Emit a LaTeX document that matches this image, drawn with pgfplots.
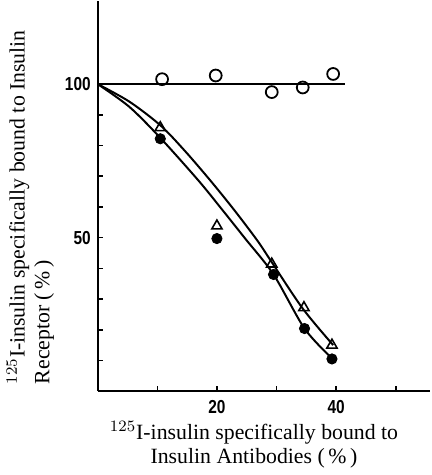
\documentclass[border=0pt]{standalone}
\usepackage{fontspec}
\setmainfont{Liberation Serif}
\newfontfamily\ticksf[FakeStretch=0.82]{Liberation Sans}
\usepackage{pgfplots}
\pgfplotsset{compat=1.18}
\begin{document}
\begin{tikzpicture}
\begin{axis}[
  scale only axis, width=168pt, height=197pt,
  xmin=0, xmax=55.8, ymin=0, ymax=127,
  axis x line=bottom, axis y line=left,
  axis line style={-, line width=1.2pt},
  xtick={10,20,30,40,50}, xticklabels={,20,,40,},
  ytick={10,20,...,100}, yticklabels={,,,,50,,,,,100},
  tick align=inside, major tick length=2.5pt,
  tick style={line width=0.8pt, black},
  /pgf/number format/assume math mode=true,
  tick label style={font=\ticksf\bfseries\fontsize{9.5}{9.5}\selectfont},
  xticklabel style={yshift=-1pt},
  label style={font=\fontsize{11}{12.5}\selectfont},
  xlabel={$^{125}$I-insulin specifically bound to\\Insulin Antibodies (\,\%\,)},
  xlabel style={align=center, at={(axis description cs:0.47,0)}, anchor=north, yshift=-11.5pt},
  ylabel={$^{125}$I-insulin specifically bound to Insulin\\Receptor (\,\%\,)},
  ylabel style={align=left, at={(axis description cs:-0.295,0)}, anchor=north west},
  clip=false,
]
% horizontal control line
\addplot[black, line width=1pt] coordinates {(0,100) (41.5,100)};
% open circles
\addplot[only marks, mark=o, mark size=3pt, mark options={line width=0.9pt}] coordinates {
  (10.8,101.6) (19.8,102.8) (29.2,97.4) (34.4,98.9) (39.5,103.3)};
% fitted curves
\addplot[black, line width=1pt, smooth] coordinates {
  (0,100) (5.3,94.3) (10.5,86.6) (14.6,78.3) (18.9,68.6) (22.9,59) (26.8,49) (29.2,42) (34.4,26.9) (39.5,15)};
\addplot[black, line width=1pt, smooth] coordinates {
  (0,100) (5.3,92.6) (10.5,82.5) (16.9,68.6) (20.8,59.3) (24.7,49.8) (29.5,38) (34.7,20.4) (39.3,10.7)};
% open triangles
\addplot[only marks, mark=triangle, mark size=3pt, mark options={line width=0.8pt, fill=white}] coordinates {
  (10.5,85.8) (20,53.8) (29.2,41.4) (34.6,27.2) (39.3,15)};
% filled dots
\addplot[only marks, mark=*, mark size=2.6pt, black] coordinates {
  (10.5,82.2) (20,49.7) (29.5,38) (34.7,20.4) (39.3,10.5)};
\end{axis}
\end{tikzpicture}
\end{document}
